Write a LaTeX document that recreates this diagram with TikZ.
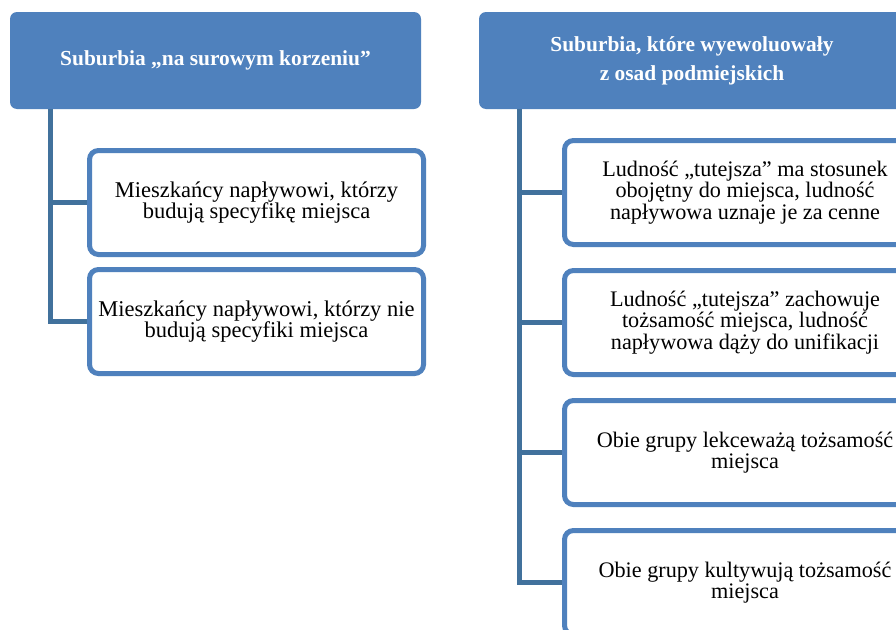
\documentclass[tikz,border=0pt]{standalone}
\usepackage{fontspec}
\setmainfont{Liberation Serif}
\usepackage{xcolor}
\usetikzlibrary{positioning}
\definecolor{hdrblue}{HTML}{4F81BD}
\definecolor{spineblue}{HTML}{41719C}

\begin{document}
\begin{tikzpicture}[
  x=1pt, y=1pt,
  node distance=10pt,
  header/.style={fill=hdrblue, rounded corners=7pt, text=white, align=center, font=\bfseries\fontsize{21.4}{29}\selectfont, minimum height=97pt, inner sep=0pt},
  item/.style={draw=hdrblue, line width=5pt, rounded corners=9pt, fill=white, align=center, minimum height=104pt, inner sep=0pt},
  itemL/.style={item, minimum width=334pt, font=\fontsize{22.5}{21}\selectfont},
  itemR/.style={item, minimum width=361pt, font=\fontsize{22.2}{18}\selectfont},
  spine/.style={draw=spineblue, line width=5pt}
]
\useasboundingbox (0,0) rectangle (896,-629);
\clip (0,0) rectangle (896,-629);
\fill[white] (0,0) rectangle (896,-629);
\node[header, minimum width=411pt] (hdrL) at (215.5,-60.5) {Suburbia „na surowym korzeniu”};
\node[header, minimum width=426pt] (hdrR) at (692,-60.5) {Suburbia, które wyewoluowały\\z osad podmiejskich};
\node[itemL] (nativeA) at (256.5,-202.5) {Mieszkańcy napływowi, którzy\\budują specyfikę miejsca};
\node[itemL, below=of nativeA] (nativeB) {Mieszkańcy napływowi, którzy nie\\budują specyfiki miejsca};
\node[itemR] (evolA) at (745,-192.5) {Ludność „tutejsza” ma stosunek\\obojętny do miejsca, ludność\\napływowa uznaje je za cenne};
\node[itemR, below=21pt of evolA] (evolB) {Ludność „tutejsza” zachowuje\\tożsamość miejsca, ludność\\napływowa dąży do unifikacji};
\node[itemR, below=21pt of evolB] (evolC) {Obie grupy lekceważą tożsamość\\miejsca};
\node[itemR, below=21pt of evolC] (evolD) {Obie grupy kultywują tożsamość\\miejsca};
\coordinate (spL) at ([xshift=-165.5pt]hdrL.south);
\coordinate (spR) at ([xshift=-173pt]hdrR.south);
\draw[spine] (spL) |- (nativeA.west);
\draw[spine] (spL) |- (nativeB.west);
\draw[spine] (spR) |- (evolA.west);
\draw[spine] (spR) |- (evolB.west);
\draw[spine] (spR) |- (evolC.west);
\draw[spine] (spR) |- (evolD.west);
\end{tikzpicture}
\end{document}
